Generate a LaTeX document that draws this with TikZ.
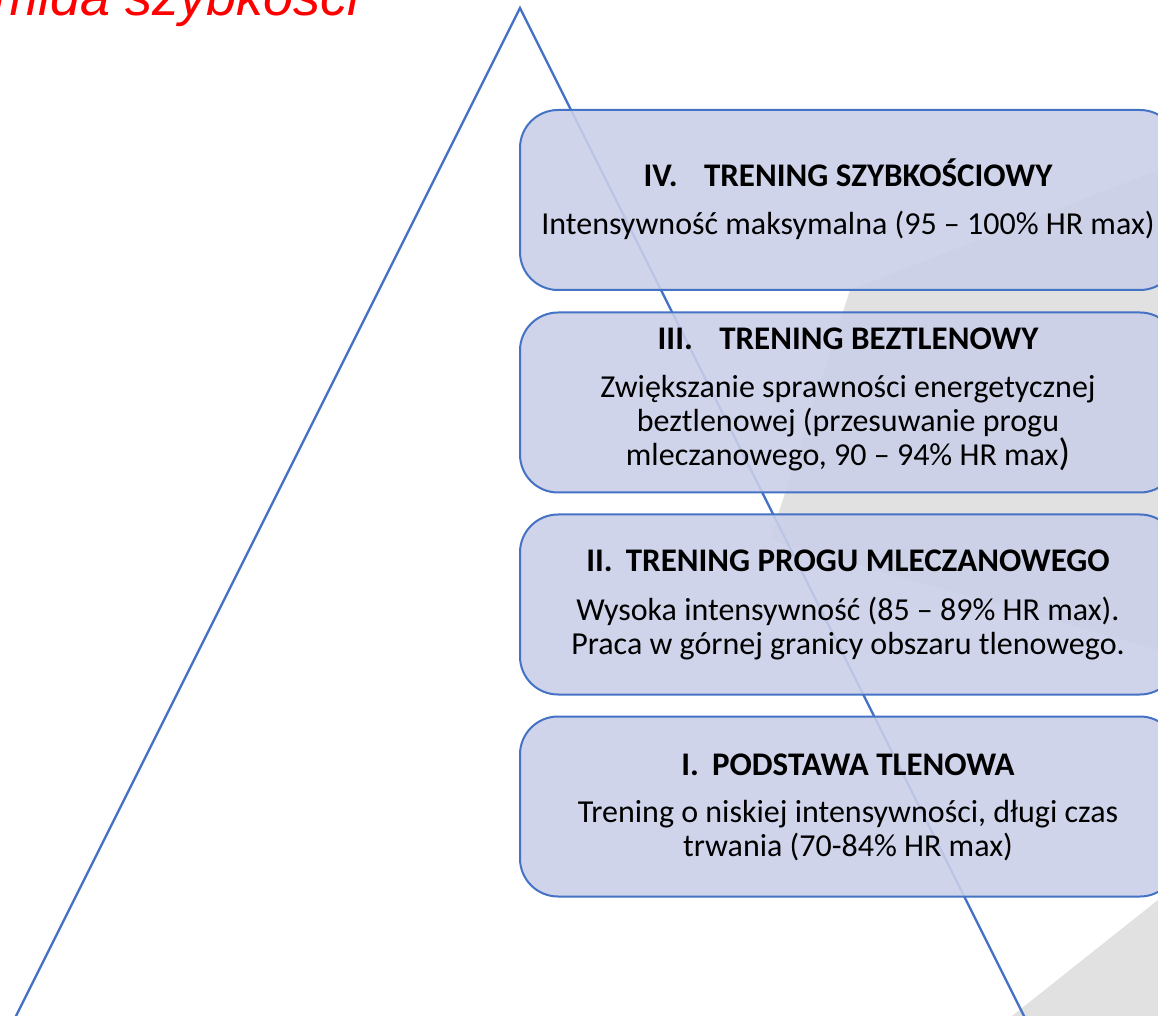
\documentclass[tikz,border=0pt]{standalone}
\usepackage{fontspec}
\setmainfont{Carlito}
\newfontfamily\headfont{Liberation Sans}
\definecolor{boxline}{HTML}{4472C4}
\definecolor{boxfill}{RGB}{202,208,232}
\definecolor{swoosh}{RGB}{225,225,225}
\begin{document}
\begin{tikzpicture}[x=0.5pt,y=-0.5pt,
  stage/.style={draw=boxline, line width=1pt, fill=boxfill, fill opacity=0.9,
    rounded corners=19pt, minimum width=329pt, minimum height=90pt, inner sep=0pt},
  head/.style={font=\fontsize{16.5}{17}\selectfont\bfseries, anchor=base, inner sep=0pt},
  body/.style={font=\fontsize{16}{17}\selectfont, anchor=base, inner sep=0pt},
]
\clip (0,0) rectangle (1158,1016);
\fill[white] (0,0) rectangle (1158,1016);

% light background swooshes on the right
\fill[swoosh] (770,540) -- (850,290) -- (1158,170) -- (1158,650) -- cycle;
\fill[swoosh] (1012,1016) -- (1158,900) -- (1158,1016) -- cycle;

% pyramid outline
\coordinate (apex) at (520,8);
\coordinate (bl) at (9,1030);
\coordinate (br) at (1031,1030);
\draw[boxline, line width=1.2pt, line join=miter] (bl) -- (apex) -- (br);

% title
\node[anchor=base east, font=\headfont\itshape\fontsize{27}{30}\selectfont,
  text=red, inner sep=0pt] (title) at (360,16) {Piramida szybkości};

% the four training stages
\node[stage] (s4) at (849,200) {};
\node[stage] (s3) at (849,402.5) {};
\node[stage] (s2) at (849,604.5) {};
\node[stage] (s1) at (849,806.5) {};

\node[head] (h4) at (848,187) {IV.\hspace{0.8em}TRENING SZYBKOŚCIOWY};
\node[body] (b4) at (848,235) {Intensywność maksymalna (95 – 100\% HR max)};

\node[head] (h3) at (848,350) {III.\hspace{0.8em}TRENING BEZTLENOWY};
\node[body] (b3a) at (848,398) {Zwiększanie sprawności energetycznej};
\node[body] (b3b) at (848,432) {beztlenowej (przesuwanie progu};
\node[body] (b3c) at (848,466) {mleczanowego, 90 – 94\% HR max{\fontsize{19}{17}\selectfont )}};

\node[head] (h2) at (848,572) {II.\hspace{0.4em}TRENING PROGU MLECZANOWEGO};
\node[body] (b2a) at (848,620) {Wysoka intensywność (85 – 89\% HR max).};
\node[body] (b2b) at (848,654) {Praca w górnej granicy obszaru tlenowego.};

\node[head] (h1) at (848,775) {I.\hspace{0.4em}PODSTAWA TLENOWA};
\node[body] (b1a) at (848,822) {Trening o niskiej intensywności, długi czas};
\node[body] (b1b) at (848,856) {trwania (70-84\% HR max)};
\end{tikzpicture}
\end{document}
